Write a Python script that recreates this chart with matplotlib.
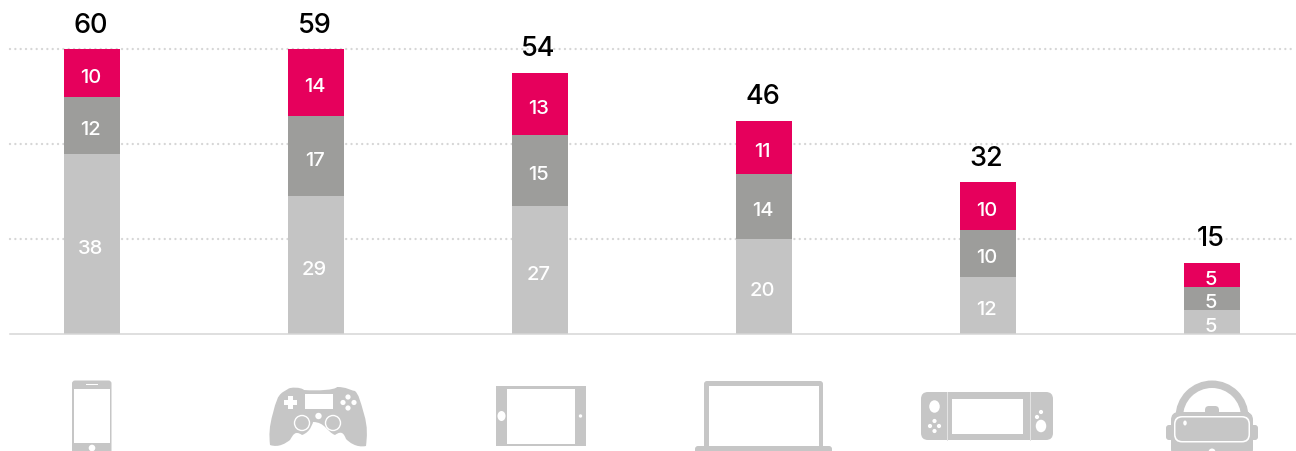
"""Stacked bars per device with hand-drawn device icons under each column."""

import matplotlib
matplotlib.use("Agg")
import matplotlib.pyplot as plt
from matplotlib.patches import Circle, Ellipse, FancyBboxPatch, PathPatch, Rectangle, Wedge
from matplotlib.path import Path

FIG_W, FIG_H = 1296, 452
BASE_PX = 335       # baseline row in the picture
PX_PER_UNIT = 4.75
STEP_PX = 224       # distance between bars
FIRST_PX = 92

devices = ["Smartphone", "Console", "Tablet", "Laptop", "Handheld", "VR"]
totals = [60, 59, 54, 46, 32, 15]
bottom_vals = [38, 29, 27, 20, 12, 5]
middle_vals = [12, 17, 15, 13.7, 10, 5]
top_vals = [10, 14, 13, 11.2, 10, 5]
grid_vals = [20, 40, 60]

LIGHT = "#c4c4c4"
MID = "#9d9d9b"
PINK = "#e6005c"
ICON = "#c6c6c6"
GRID = "#d6d6d6"

plt.rcParams["font.family"] = ["Inter", "DejaVu Sans"]


def rbox(ax, x0, y0, x1, y1, r, color):
    ax.add_patch(FancyBboxPatch((x0 + r, y0 + r), x1 - x0 - 2 * r, y1 - y0 - 2 * r,
                                boxstyle=f"round,pad={r},rounding_size={r}",
                                fc=color, ec="none"))


def dot(ax, x, y, r, color="white"):
    ax.add_patch(Circle((x, y), r, fc=color, ec="none"))


def draw_phone(ax):
    rbox(ax, 72, 381.5, 111.5, 456, 3, ICON)
    ax.add_patch(Rectangle((74, 390), 36, 54, fc="white", ec="none"))
    ax.add_patch(Rectangle((86, 385), 12, 1.2, fc="white", ec="none"))
    dot(ax, 92, 449, 3.3)


def draw_gamepad(ax):
    verts = [(288, 390), (290, 388), (301, 388), (304, 391), (318, 392), (335, 391),
             (337, 388), (347, 388), (349, 391), (355, 392), (359, 396), (360, 401),
             (364, 415), (368, 428), (367, 438), (366, 447), (356, 449), (349, 443),
             (346, 440), (344, 435), (342, 431), (335, 436), (327, 433), (325, 423),
             (313, 423), (313, 423), (311, 433), (302, 436), (295, 431),
             (293, 436), (290, 441), (286, 444), (279, 449), (270, 446), (269, 436),
             (269, 428), (273, 414), (276, 403), (277, 397), (283, 393), (288, 390)]
    codes = [Path.MOVETO] + [Path.CURVE4] * (len(verts) - 1)
    codes[-1] = Path.LINETO
    ax.add_patch(PathPatch(Path(verts, codes), fc=ICON, ec="none"))
    ax.add_patch(Rectangle((305, 395), 28, 15, fc="white", ec="none"))
    ax.add_patch(Rectangle((284, 401), 13, 4.5, fc="white", ec="none"))
    ax.add_patch(Rectangle((288, 397), 4.5, 13, fc="white", ec="none"))
    for bx, by in [(348, 398), (343, 403.5), (354, 403.5), (348, 409)]:
        dot(ax, bx, by, 2.6)
    dot(ax, 318.5, 417, 3.2)
    for sx in [302, 333]:
        dot(ax, sx, 424, 8.2)
        dot(ax, sx, 424, 6.8, ICON)


def draw_tablet(ax):
    ax.add_patch(Rectangle((496, 387), 90, 60, fc=ICON, ec="none"))
    ax.add_patch(Rectangle((507, 390), 68, 55, fc="white", ec="none"))
    ax.add_patch(Ellipse((501.5, 417), 8, 10, fc="white", ec="none"))
    dot(ax, 580.5, 417, 1.7)


def draw_laptop(ax):
    rbox(ax, 704, 382, 823, 450, 3, ICON)
    ax.add_patch(Rectangle((709, 386.5), 110, 62, fc="white", ec="none"))
    rbox(ax, 695, 447, 832, 458, 3, ICON)


def draw_switch(ax):
    rbox(ax, 921, 393, 1053, 441, 7, ICON)
    ax.add_patch(Rectangle((952, 400), 71, 35, fc="white", ec="none"))
    for lx in [946.5, 1030]:
        ax.plot([lx, lx], [393, 441], color="#e4e4e4", lw=0.7)
    ax.add_patch(Ellipse((934.5, 407.5), 10.5, 12.5, fc="white", ec="none"))
    ax.add_patch(Ellipse((1041, 427), 10.5, 12.5, fc="white", ec="none"))
    for bx, by in [(934.5, 422), (934.5, 432), (930, 427), (939, 427),
                   (1041, 413), (1037, 418), (1041, 423)]:
        dot(ax, bx, by, 2.1)


def draw_vr(ax):
    cx = 1212
    ax.add_patch(Wedge((cx, 418), 36.5, 180, 360, width=7.5, fc=ICON, ec="none"))
    ax.add_patch(Rectangle((cx - 36.5, 413), 8, 8, fc=ICON, ec="none"))
    ax.add_patch(Rectangle((cx + 28.5, 413), 8, 8, fc=ICON, ec="none"))
    rbox(ax, 1166, 426, 1258, 441, 3, ICON)
    rbox(ax, 1171, 413, 1253, 458, 8, ICON)
    rbox(ax, cx - 7, 407, cx + 7, 416, 4, ICON)
    rbox(ax, 1174, 417, 1250, 443.5, 8, "white")
    rbox(ax, 1175.5, 418.5, 1248.5, 442, 7, ICON)
    ax.add_patch(Ellipse((1185, 424), 3.5, 5, fc="white", ec="none"))
    dot(ax, cx, 453, 3.5)


def main():
    fig = plt.figure(figsize=(FIG_W / 100, FIG_H / 100), dpi=100)

    # main axes fill the figure; scales are set so bars land on the picture's pixels
    ax = fig.add_axes([0, 0, 1, 1])
    ax.set_xlim(-FIRST_PX / STEP_PX, (FIG_W - FIRST_PX) / STEP_PX)
    ax.set_ylim(-(FIG_H - BASE_PX) / PX_PER_UNIT, BASE_PX / PX_PER_UNIT)
    ax.axis("off")

    x_left = ax.get_xlim()[0] + 10 / STEP_PX
    x_right = ax.get_xlim()[1]
    for g in grid_vals:
        ax.plot([x_left, x_right], [g, g], color=GRID, lw=1.7,
                linestyle=(0, (0.01, 2.25)), dash_capstyle="round", zorder=1)
    ax.plot([x_left, x_right], [0.1, 0.1], color=GRID, lw=1.1, zorder=3)

    x = list(range(len(devices)))
    mid_base = bottom_vals
    top_base = [b + m for b, m in zip(bottom_vals, middle_vals)]
    width = 56 / STEP_PX
    b1 = ax.bar(x, bottom_vals, width, color=LIGHT, zorder=2)
    b2 = ax.bar(x, middle_vals, width, bottom=mid_base, color=MID, zorder=2)
    b3 = ax.bar(x, top_vals, width, bottom=top_base, color=PINK, zorder=2)

    for bars in (b1, b2, b3):
        for bar in bars:
            ax.annotate(f"{bar.get_height():.0f}",
                        (bar.get_x() + bar.get_width() / 2, bar.get_y() + bar.get_height() / 2),
                        xytext=(-1, -2.8), textcoords="offset points",
                        ha="center", va="center", color="white", fontsize=14.5,
                        fontweight="medium", zorder=4)

    for xi, total, bt, mv, tv in zip(x, totals, bottom_vals, middle_vals, top_vals):
        ax.annotate(str(total), (xi, bt + mv + tv), xytext=(-1, 12.5),
                    textcoords="offset points", ha="center", va="baseline",
                    color="black", fontsize=19.5, fontweight="medium", zorder=4)

    # icons sit in a second axes that counts in picture pixels
    icons = fig.add_axes([0, 0, 1, 1])
    icons.set_xlim(0, FIG_W)
    icons.set_ylim(FIG_H, 0)
    icons.axis("off")
    icons.patch.set_alpha(0)
    draw_phone(icons)
    draw_gamepad(icons)
    draw_tablet(icons)
    draw_laptop(icons)
    draw_switch(icons)
    draw_vr(icons)

    fig.savefig("out.png", dpi=100)


if __name__ == "__main__":
    main()
